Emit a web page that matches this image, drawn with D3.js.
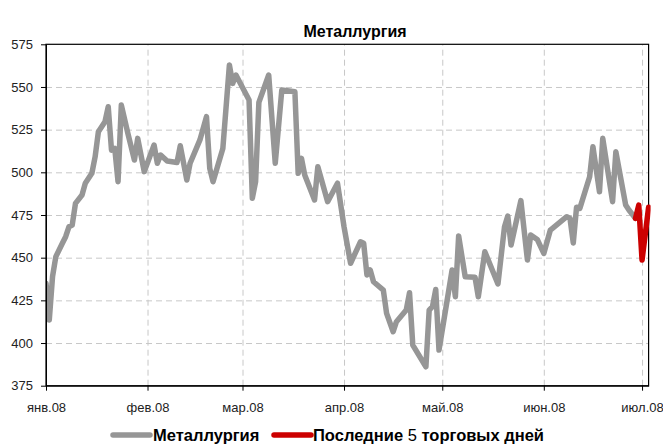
<!DOCTYPE html>
<html>
<head>
<meta charset="utf-8">
<script src="https://cdn.jsdelivr.net/npm/d3@7"></script>
<style>
  body { margin: 0; background: #fff; }
  svg { display: block; font-family: "Liberation Sans", Arial, sans-serif; }
  .grid line { stroke: #c8c8c8; stroke-dasharray: 6,4; }
  .grid path { display: none; }
  .axis path, .axis line { stroke: #000; }
  .axis text { fill: #222; font-size: 13px; }
</style>
</head>
<body>
<div id="chart"></div>
<script>
// данные: вершины кривой (дата, значение индекса)
var dates = ["2008-01-01","2008-01-02","2008-01-03","2008-01-04","2008-01-06","2008-01-07","2008-01-08","2008-01-09",
  "2008-01-10","2008-01-12","2008-01-13","2008-01-15","2008-01-16","2008-01-17","2008-01-19","2008-01-20",
  "2008-01-21","2008-01-22","2008-01-23","2008-01-24","2008-01-26","2008-01-28","2008-01-29","2008-01-31",
  "2008-02-03","2008-02-04","2008-02-05","2008-02-07","2008-02-10","2008-02-11","2008-02-13","2008-02-14",
  "2008-02-17","2008-02-19","2008-02-20","2008-02-21","2008-02-24","2008-02-26","2008-02-27","2008-02-28",
  "2008-03-03","2008-03-04","2008-03-05","2008-03-06","2008-03-09","2008-03-11","2008-03-13","2008-03-17",
  "2008-03-18","2008-03-19","2008-03-20","2008-03-23","2008-03-24","2008-03-27","2008-03-30","2008-04-01",
  "2008-04-03","2008-04-06","2008-04-07","2008-04-08","2008-04-09","2008-04-10","2008-04-13","2008-04-14",
  "2008-04-16","2008-04-17","2008-04-20","2008-04-21","2008-04-22","2008-04-26","2008-04-27","2008-04-28",
  "2008-04-29","2008-04-30","2008-05-04","2008-05-05","2008-05-06","2008-05-08","2008-05-11","2008-05-12",
  "2008-05-14","2008-05-18","2008-05-20","2008-05-21","2008-05-22","2008-05-25","2008-05-27","2008-05-28",
  "2008-05-30","2008-06-01","2008-06-03","2008-06-08","2008-06-09","2008-06-10","2008-06-11","2008-06-12",
  "2008-06-15","2008-06-16","2008-06-18","2008-06-19","2008-06-22","2008-06-23","2008-06-26","2008-06-27",
  "2008-06-29"];
var values = [435,413.5,439,450.6,458.4,462.3,468.1,469.1,
  481.8,486.7,493.6,499.4,509.1,523.8,529.6,538.4,
  513,514,494.5,539.4,522.8,507.2,519.9,500.4,
  516,505.3,510.1,506.6,505.8,515.6,495.5,505.3,
  519,532.6,502.3,494.5,514,562.9,552.1,557,
  542.4,484.8,494.5,541,557,505.3,548.2,547.2,
  499.4,508.2,498.4,483.8,503.3,482.8,493.6,468.1,
  446.7,459.3,458.4,439.8,442.8,435.9,431,417.4,
  406.6,412.5,419.3,429.5,398.8,386.1,419.3,421.3,
  431.4,395.9,442.8,427.1,462.7,438.8,438.5,427.1,
  453.5,434.6,468.1,474.4,457.4,483.4,448.6,463.3,
  460.7,452.5,466.2,474,473,458.6,479.6,478.9,
  497.4,515,488.6,519.9,482.8,512.1,480.8,477.9,
  473];

// последние 5 торговых дней
var lastDates = ["2008-06-29","2008-06-30","2008-07-01","2008-07-03"];
var lastValues = [473,480.8,448.6,479.5];

var yTicks = [375,400,425,450,475,500,525,550,575];
var monthDates = ["2008-01-01","2008-02-01","2008-03-01","2008-04-01","2008-05-01","2008-06-01","2008-07-01"];
var monthLabels = ["янв.08","фев.08","мар.08","апр.08","май.08","июн.08","июл.08"];

var W = 663, H = 448;
var margin = {top: 44.3, right: 14.4, bottom: 62.3, left: 46};
var parse = d3.timeParse("%Y-%m-%d");

var svg = d3.select("#chart").append("svg").attr("width", W).attr("height", H);

var x = d3.scaleTime()
  .domain([parse("2008-01-01"), parse("2008-07-03")])
  .range([margin.left, W - margin.right]);
var y = d3.scaleLinear()
  .domain([375, 575])
  .range([H - margin.bottom, margin.top]);

var main = dates.map(function(d, i) { return {date: parse(d), value: values[i]}; });
var last = lastDates.map(function(d, i) { return {date: parse(d), value: lastValues[i]}; });

// СЕТКА
svg.append("g").attr("class", "grid")
  .attr("transform", "translate(" + margin.left + ",0)")
  .call(d3.axisLeft(y).tickValues(yTicks.slice(1, -1)).tickSize(-(W - margin.left - margin.right)).tickFormat(""));
svg.append("g").attr("class", "grid")
  .attr("transform", "translate(0," + (H - margin.bottom) + ")")
  .call(d3.axisBottom(x).tickValues(monthDates.slice(1).map(parse)).tickSize(-(H - margin.top - margin.bottom)).tickFormat(""));

// рамка области построения
svg.append("rect")
  .attr("x", margin.left).attr("y", margin.top)
  .attr("width", W - margin.left - margin.right)
  .attr("height", H - margin.top - margin.bottom)
  .attr("fill", "none").attr("stroke", "#000").attr("stroke-width", 1.2);

svg.append("clipPath").attr("id", "plotclip").append("rect")
  .attr("x", margin.left).attr("y", margin.top - 10)
  .attr("width", W - margin.left - margin.right + 2)
  .attr("height", H - margin.top - margin.bottom + 20);

var line = d3.line()
  .x(function(d) { return x(d.date); })
  .y(function(d) { return y(d.value); });

var lines = svg.append("g").attr("clip-path", "url(#plotclip)");
lines.append("path").datum(main)
  .attr("d", line).attr("fill", "none")
  .attr("stroke", "#969696").attr("stroke-width", 5.5)
  .attr("stroke-linejoin", "round").attr("stroke-linecap", "round");
lines.append("path").datum(last)
  .attr("d", line).attr("fill", "none")
  .attr("stroke", "#cc0000").attr("stroke-width", 5.5)
  .attr("stroke-linejoin", "round").attr("stroke-linecap", "round");

// ОСИ
svg.append("g").attr("class", "axis")
  .attr("transform", "translate(" + margin.left + ",0)")
  .call(d3.axisLeft(y).tickValues(yTicks).tickSize(5).tickPadding(8).tickSizeOuter(0));
svg.append("g").attr("class", "axis")
  .attr("transform", "translate(0," + (H - margin.bottom) + ")")
  .call(d3.axisBottom(x).tickValues(monthDates.map(parse)).tickSize(5).tickPadding(12).tickSizeOuter(0)
    .tickFormat(function(d, i) { return monthLabels[i]; }));

// заголовок
svg.append("text")
  .attr("x", 355).attr("y", 37)
  .attr("text-anchor", "middle")
  .attr("font-size", 16).attr("font-weight", "bold")
  .text("Металлургия");

// легенда
var legend = svg.append("g").attr("transform", "translate(0,435)");
legend.append("line").attr("x1", 113).attr("x2", 150).attr("y1", 0).attr("y2", 0)
  .attr("stroke", "#969696").attr("stroke-width", 5.5).attr("stroke-linecap", "round");
legend.append("text").attr("x", 153).attr("y", 6)
  .attr("font-size", 16.5).attr("font-weight", "bold").text("Металлургия");
legend.append("line").attr("x1", 274).attr("x2", 311).attr("y1", 0).attr("y2", 0)
  .attr("stroke", "#cc0000").attr("stroke-width", 5.5).attr("stroke-linecap", "round");
var lt = legend.append("text").attr("x", 313).attr("y", 6)
  .attr("font-size", 16.5).attr("font-weight", "bold");
lt.append("tspan").text("Последние ");
lt.append("tspan").attr("font-weight", "normal").text("5");
lt.append("tspan").text(" торговых дней");
</script>
</body>
</html>
